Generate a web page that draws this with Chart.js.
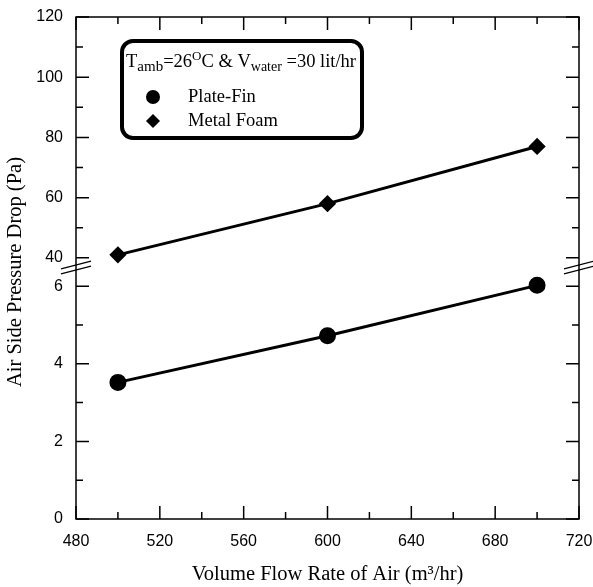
<!DOCTYPE html>
<html>
<head>
<meta charset="utf-8">
<script src="https://cdn.jsdelivr.net/npm/chart.js@4.4.1/dist/chart.umd.min.js"></script>
<style>
  html, body { margin:0; padding:0; background:#fff; }
  #wrap { width:593px; height:587px; }
</style>
</head>
<body>
<div id="wrap"><canvas id="c"></canvas></div>
<script>
// air flow rate (m3/hr) and pressure drop (Pa) for the two heat exchangers
const flowRates  = [500, 600, 700];
const plateFin   = [3.52, 4.72, 6.02];
const metalFoam  = [41, 58, 77];

const xTicks     = [480, 520, 560, 600, 640, 680, 720];
const yHighTicks = [40, 60, 80, 100, 120];
const yLowTicks  = [0, 2, 4, 6];

const SANS  = "'Liberation Sans', Arial, sans-serif";
const SERIF = "'Liberation Serif', 'Times New Roman', serif";

const pts = ys => flowRates.map((x, i) => ({ x, y: ys[i] }));

// frame, inward ticks on all four sides, axis break marks
const framePlugin = {
  id: "frame",
  afterDatasetsDraw(chart) {
    const { ctx, chartArea: a, scales } = chart;
    const { x, yHigh, yLow } = scales;
    ctx.save();
    ctx.strokeStyle = "#000";
    ctx.lineWidth = 1.5;
    ctx.strokeRect(a.left, a.top, a.right - a.left, a.bottom - a.top);

    const MAJ = 13, MIN = 7;
    ctx.beginPath();
    for (let v = 480; v <= 720; v += 20) {
      const px = x.getPixelForValue(v);
      const len = v % 40 === 0 ? MAJ : MIN;
      ctx.moveTo(px, a.bottom); ctx.lineTo(px, a.bottom - len);
      ctx.moveTo(px, a.top);    ctx.lineTo(px, a.top + len);
    }
    const yTick = (scale, v, len) => {
      const py = scale.getPixelForValue(v);
      ctx.moveTo(a.left, py);  ctx.lineTo(a.left + len, py);
      ctx.moveTo(a.right, py); ctx.lineTo(a.right - len, py);
    };
    for (let v = 40; v <= 120; v += 10) yTick(yHigh, v, v % 20 === 0 ? MAJ : MIN);
    for (let v = 0; v <= 6; v += 1) yTick(yLow, v, v % 2 === 0 ? MAJ : MIN);
    ctx.stroke();

    // break marks across both vertical axes
    const yb = Math.max(yHigh.bottom, yLow.top);
    ctx.lineWidth = 1.3;
    ctx.beginPath();
    [a.left, a.right].forEach(cx => {
      [-2.5, 2.5].forEach(off => {
        ctx.moveTo(cx - 15, yb + off + 3.8);
        ctx.lineTo(cx + 15, yb + off - 3.8);
      });
    });
    ctx.stroke();
    ctx.restore();
  },
  afterDraw(chart) {
    const { ctx, chartArea: a } = chart;
    ctx.save();
    ctx.fillStyle = "#000";
    ctx.textAlign = "center";
    ctx.textBaseline = "middle";
    ctx.font = "20.5px " + SERIF;
    ctx.fillText("Volume Flow Rate of Air (m\u00B3/hr)", (a.left + a.right) / 2, 575);
    ctx.translate(16, 272);
    ctx.rotate(-Math.PI / 2);
    ctx.fillText("Air Side Pressure Drop (Pa)", 0, 0);
    ctx.restore();

    // legend box
    ctx.save();
    ctx.strokeStyle = "#000";
    ctx.lineWidth = 4;
    ctx.beginPath();
    ctx.roundRect(122, 41, 240, 97, 11);
    ctx.stroke();

    const runs = [
      ["T", 18.5, 0], ["amb", 15, 4], ["=26", 18.5, 0], ["O", 13, -7],
      ["C & V", 18.5, 0], ["water", 14, 4], [" =30 lit/hr", 18.5, 0],
    ];
    let tx = 126;
    ctx.fillStyle = "#000";
    ctx.textAlign = "left";
    ctx.textBaseline = "alphabetic";
    runs.forEach(([t, size, dy]) => {
      ctx.font = size + "px " + SERIF;
      ctx.fillText(t, tx, 67 + dy);
      tx += ctx.measureText(t).width;
    });

    ctx.font = "18.5px " + SERIF;
    ctx.textBaseline = "middle";
    ctx.fillText("Plate-Fin", 188, 97);
    ctx.fillText("Metal Foam", 188, 121);

    ctx.beginPath();
    ctx.arc(153, 97, 7, 0, Math.PI * 2);
    ctx.fill();
    ctx.beginPath();
    ctx.moveTo(153, 114); ctx.lineTo(160, 121); ctx.lineTo(153, 128); ctx.lineTo(146, 121);
    ctx.closePath();
    ctx.fill();
    ctx.restore();
  },
};

const tickFont = { family: SANS, size: 16 };

new Chart(document.getElementById("c"), {
  type: "line",
  data: {
    datasets: [
      { label: "Plate-Fin", data: pts(plateFin), yAxisID: "yLow",
        borderColor: "#000", backgroundColor: "#000", borderWidth: 3,
        pointStyle: "circle", pointRadius: 7, pointHoverRadius: 7, tension: 0 },
      { label: "Metal Foam", data: pts(metalFoam), yAxisID: "yHigh",
        borderColor: "#000", backgroundColor: "#000", borderWidth: 3,
        pointStyle: "rectRot", pointRadius: 6.5, pointHoverRadius: 6.5, tension: 0 },
    ],
  },
  options: {
    responsive: true,
    maintainAspectRatio: false,
    animation: false,
    events: [],
    layout: { padding: 0 },
    plugins: { legend: { display: false }, tooltip: { enabled: false } },
    scales: {
      x: {
        type: "linear", min: 480, max: 720,
        afterBuildTicks: s => { s.ticks = xTicks.map(v => ({ value: v })); },
        afterFit: s => { s.height = 68; s.paddingLeft = 0; s.paddingRight = 14; },
        grid: { display: false }, border: { display: false },
        ticks: { color: "#000", font: tickFont, padding: 5, maxRotation: 0 },
      },
      // the lower stack member is listed first; the layout puts it at the bottom
      yLow: {
        type: "linear", position: "left", stack: "y", stackWeight: 251.5,
        min: 0, max: 6.48,
        afterBuildTicks: s => { s.ticks = yLowTicks.map(v => ({ value: v })); },
        afterFit: s => { s.width = 76; s.paddingTop = 0; s.paddingBottom = 0; },
        grid: { display: false }, border: { display: false },
        ticks: { color: "#000", font: tickFont, padding: 5 },
      },
      yHigh: {
        type: "linear", position: "left", stack: "y", stackWeight: 250.5,
        min: 36.8, max: 120,
        afterBuildTicks: s => { s.ticks = yHighTicks.map(v => ({ value: v })); },
        afterFit: s => { s.width = 76; s.paddingTop = 17; s.paddingBottom = 0; },
        grid: { display: false }, border: { display: false },
        ticks: { color: "#000", font: tickFont, padding: 5 },
      },
    },
  },
  plugins: [framePlugin],
});
</script>
</body>
</html>
